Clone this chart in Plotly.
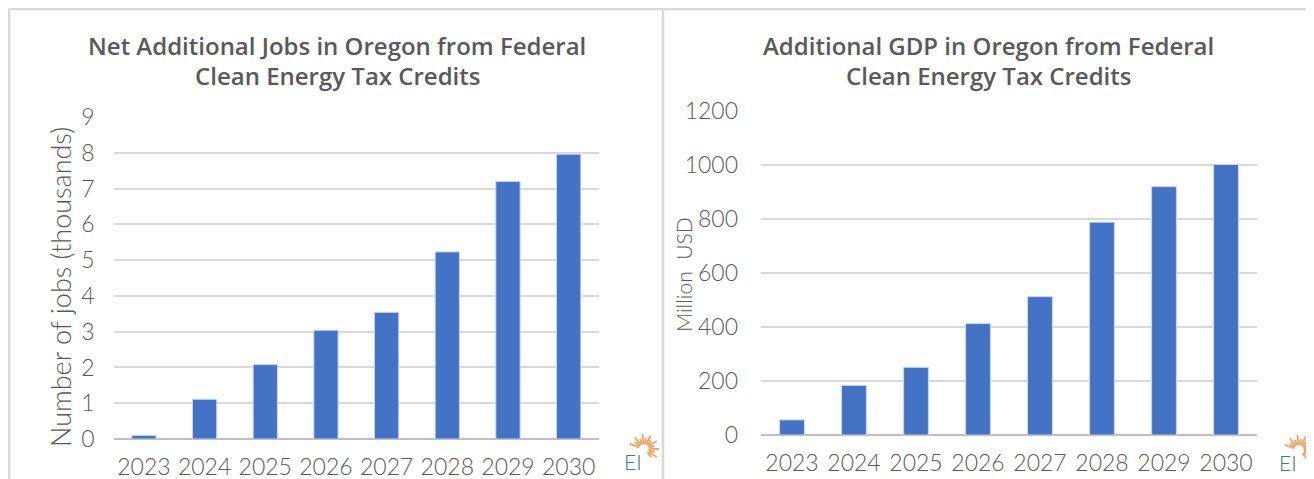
import math
import plotly.graph_objects as go

years = ["2023", "2024", "2025", "2026", "2027", "2028", "2029", "2030"]
jobs_thousands = [0.10, 1.11, 2.08, 3.04, 3.54, 5.23, 7.20, 7.96]
gdp_million_usd = [56, 184, 251, 413, 513, 789, 921, 1003]
jobs_ticks = [0, 1, 2, 3, 4, 5, 6, 7, 8, 9]
gdp_ticks = [0, 200, 400, 600, 800, 1000, 1200]

# page body has an 8px margin, so the figure is drawn 8px in from the window corner
OFF = 8
W, H = 1314 - OFF, 479 - OFF
def px(x):
    return (x - OFF) / W
def py(y):
    return 1 - (y - OFF) / H

BAR = "#4472c4"
GRID = "#d9d9d9"
TXT = "#595959"
FONT = "Lato"

fig = go.Figure()
fig.add_trace(go.Bar(x=years, y=jobs_thousands, marker=dict(color=BAR, line=dict(color="#c9d5ee", width=1)),
                     xaxis="x", yaxis="y", hoverinfo="x+y"))
fig.add_trace(go.Bar(x=years, y=gdp_million_usd, marker=dict(color=BAR, line=dict(color="#c9d5ee", width=1)),
                     xaxis="x2", yaxis="y2", hoverinfo="x+y"))

tick_font = dict(family=FONT, size=23, color=TXT, weight=300)
xcommon = dict(type="category", showgrid=False, showline=False, zeroline=False, automargin=False,
               tickfont=tick_font, ticks="", ticklabelstandoff=12, fixedrange=True)
ycommon = dict(showgrid=True, gridcolor=GRID, gridwidth=2, zeroline=True, zerolinecolor="#bfbfbf",
               zerolinewidth=2, showline=False, tickfont=tick_font, ticks="", automargin=False,
               fixedrange=True)

fig.update_layout(
    template="none",
    width=W, height=H, margin=dict(l=0, r=0, t=0, b=0, pad=0, autoexpand=False),
    paper_bgcolor="white", plot_bgcolor="white", showlegend=False, bargap=0.6,
    xaxis=dict(domain=[px(113.6), px(599)], anchor="y", **xcommon),
    yaxis=dict(domain=[py(439), py(117)], anchor="x", range=[0, 9], tickvals=jobs_ticks,
               ticklabelstandoff=18, **ycommon),
    xaxis2=dict(domain=[px(761), px(1257)], anchor="y2", **xcommon),
    yaxis2=dict(domain=[py(435), py(111.4)], anchor="x2", range=[0, 1200], tickvals=gdp_ticks,
                ticklabelstandoff=22, **ycommon),
)

ann = []
title_font = dict(family="Open Sans", size=24, color=TXT, weight=600)
for cx, lines in [(337, ["Net Additional Jobs in Oregon from Federal", "Clean Energy Tax Credits"]),
                  (988, ["Additional GDP in Oregon from Federal", "Clean Energy Tax Credits"])]:
    for i, t in enumerate(lines):
        ann.append(dict(text=t, x=px(cx), y=py(46 + 30 * i), xref="paper", yref="paper", showarrow=False,
                        xanchor="center", yanchor="middle", font=title_font))
ann.append(dict(text="Number of jobs (thousands)", x=px(60), y=py(287), xref="paper", yref="paper",
                showarrow=False, textangle=-90, xanchor="center", yanchor="middle",
                font=dict(family=FONT, size=27, color=TXT, weight=300)))
ann.append(dict(text="Million  USD", x=px(683), y=py(275), xref="paper", yref="paper",
                showarrow=False, textangle=-90, xanchor="center", yanchor="middle",
                font=dict(family=FONT, size=21, color=TXT, weight=300)))

shapes = []
border = dict(color=GRID, width=2.5)
shapes.append(dict(type="line", xref="paper", yref="paper", x0=px(9), x1=px(1311), y0=py(9), y1=py(9), line=border))
shapes.append(dict(type="line", xref="paper", yref="paper", x0=px(9), x1=px(9), y0=py(9), y1=0, line=border))
shapes.append(dict(type="line", xref="paper", yref="paper", x0=px(663), x1=px(663), y0=py(9), y1=0, line=border))
shapes.append(dict(type="line", xref="paper", yref="paper", x0=px(1311), x1=px(1311), y0=py(9), y1=0, line=border))

# EI logos
for lx, ly in ((633, 461), (1288, 462)):
    ann.append(dict(text="EI", x=px(lx), y=py(ly), xref="paper", yref="paper", showarrow=False,
                    xanchor="center", yanchor="middle", font=dict(family=FONT, size=21, color="#4a7394", weight=300)))
    cx, cy = lx + 11, ly - 12
    for k in range(14):
        a = math.radians(-160 + k * 16)
        r0, r1 = 5, (15 if k % 2 == 0 else 11)
        shapes.append(dict(type="line", xref="paper", yref="paper",
                           x0=px(cx + r0 * math.cos(a)), y0=py(cy + r0 * math.sin(a)),
                           x1=px(cx + r1 * math.cos(a)), y1=py(cy + r1 * math.sin(a)),
                           line=dict(color="#f4a15d", width=1.8)))

fig.update_layout(annotations=ann, shapes=shapes)
fig.write_html("out.html")
